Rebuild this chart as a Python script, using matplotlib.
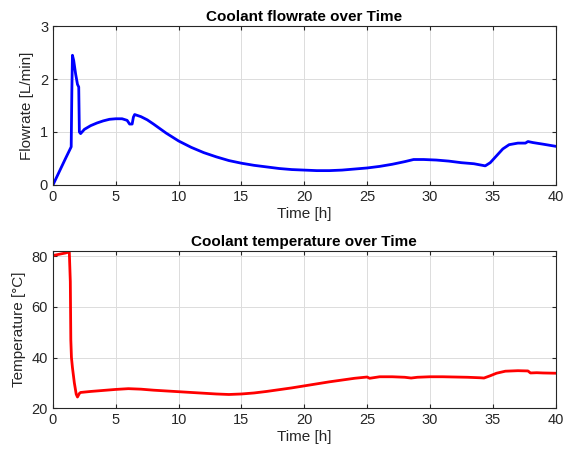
import matplotlib.pyplot as plt
import numpy as np

plt.rcParams['font.family'] = ['Liberation Sans', 'DejaVu Sans']

# flowrate samples [h], [L/min]
t_flow = [0, 0.5, 1.0, 1.45, 1.5, 1.55, 1.65, 1.8, 1.95, 2.05, 2.1, 2.2, 2.5, 3.0, 3.5, 4.0,
          4.5, 5.0, 5.5, 5.9, 6.1, 6.3, 6.4, 6.5, 7.0, 7.5, 8.0, 9.0, 10.0, 11.0, 12.0, 13.0,
          14.0, 15.0, 16.0, 17.0, 18.0, 19.0, 20.0, 21.0, 22.0, 23.0, 24.0, 25.0, 26.0, 27.0,
          28.0, 28.7, 29.5, 30.5, 31.5, 32.5, 33.5, 34.4, 34.8, 35.3, 35.8, 36.3, 37.0, 37.6,
          37.8, 38.2, 39.0, 40.0]
flow = [0.0, 0.25, 0.5, 0.72, 1.75, 2.45, 2.35, 2.1, 1.9, 1.85, 1.0, 0.97, 1.05, 1.12, 1.17, 1.21,
        1.24, 1.25, 1.25, 1.22, 1.15, 1.15, 1.28, 1.33, 1.29, 1.23, 1.15, 0.98, 0.83, 0.71, 0.61, 0.53,
        0.46, 0.41, 0.37, 0.34, 0.31, 0.29, 0.28, 0.27, 0.27, 0.28, 0.3, 0.32, 0.35, 0.39,
        0.44, 0.48, 0.48, 0.47, 0.45, 0.42, 0.4, 0.36, 0.42, 0.55, 0.68, 0.76, 0.79, 0.79,
        0.82, 0.8, 0.77, 0.73]

# temperature samples [h], [°C]
t_temp = [0, 0.5, 1.0, 1.3, 1.38, 1.42, 1.47, 1.55, 1.7, 1.85, 1.95, 2.1, 2.2, 3.0, 4.0, 5.0,
          6.0, 7.0, 8.0, 9.0, 10.0, 11.0, 12.0, 13.0, 14.0, 15.0, 16.0, 17.0, 18.0, 19.0, 20.0,
          21.0, 22.0, 23.0, 24.0, 25.0, 25.2, 26.0, 27.0, 28.0, 28.5, 29.0, 30.0, 31.0, 32.0,
          33.0, 34.0, 34.3, 34.8, 35.3, 36.0, 37.0, 37.8, 38.0, 38.5, 39.0, 40.0]
temp = [80.3, 80.8, 81.3, 81.7, 70.0, 47.0, 40.0, 36.0, 30.0, 25.5, 24.4, 25.8, 26.2, 26.6, 27.0, 27.4,
        27.7, 27.5, 27.1, 26.8, 26.5, 26.2, 25.9, 25.6, 25.4, 25.6, 26.0, 26.6, 27.3, 28.0, 28.8,
        29.6, 30.4, 31.1, 31.8, 32.3, 31.8, 32.4, 32.4, 32.2, 31.9, 32.2, 32.4, 32.4, 32.3,
        32.2, 32.0, 31.9, 32.8, 33.8, 34.6, 34.8, 34.7, 33.9, 34.0, 33.9, 33.8]

fig = plt.figure(figsize=(5.66, 4.51), dpi=100)
ax1 = fig.add_axes([0.0936, 0.590, 0.888, 0.352])
ax2 = fig.add_axes([0.0936, 0.095, 0.888, 0.348])

def matlab_style(ax):
    ax.grid(True, color='#dcdcdc', linewidth=0.7)
    ax.set_axisbelow(True)
    ax.tick_params(direction='in', length=3, colors='#262626', labelsize=10.5,
                   top=True, right=True, labeltop=False, labelright=False)
    for s in ax.spines.values():
        s.set_color('#262626')
        s.set_linewidth(0.8)

ax1.plot(t_flow, flow, color='#0000ff', linewidth=2)
ax1.set_xlim(0, 40)
ax1.set_ylim(0, 3)
ax1.set_yticks([0, 1, 2, 3])
ax1.set_title('Coolant flowrate over Time', fontsize=11, fontweight='bold', pad=4)
ax1.set_xlabel('Time [h]', fontsize=11, color='#262626', labelpad=2)
ax1.set_ylabel('Flowrate [L/min]', fontsize=11, color='#262626')
matlab_style(ax1)

ax2.plot(t_temp, temp, color='#ff0000', linewidth=2)
ax2.set_xlim(0, 40)
ax2.set_ylim(20, 82)
ax2.set_yticks([20, 40, 60, 80])
ax2.set_title('Coolant temperature over Time', fontsize=11, fontweight='bold', pad=4)
ax2.set_xlabel('Time [h]', fontsize=11, color='#262626', labelpad=2)
ax2.set_ylabel('Temperature [°C]', fontsize=11, color='#262626')
matlab_style(ax2)

fig.savefig('out.png', dpi=100)
